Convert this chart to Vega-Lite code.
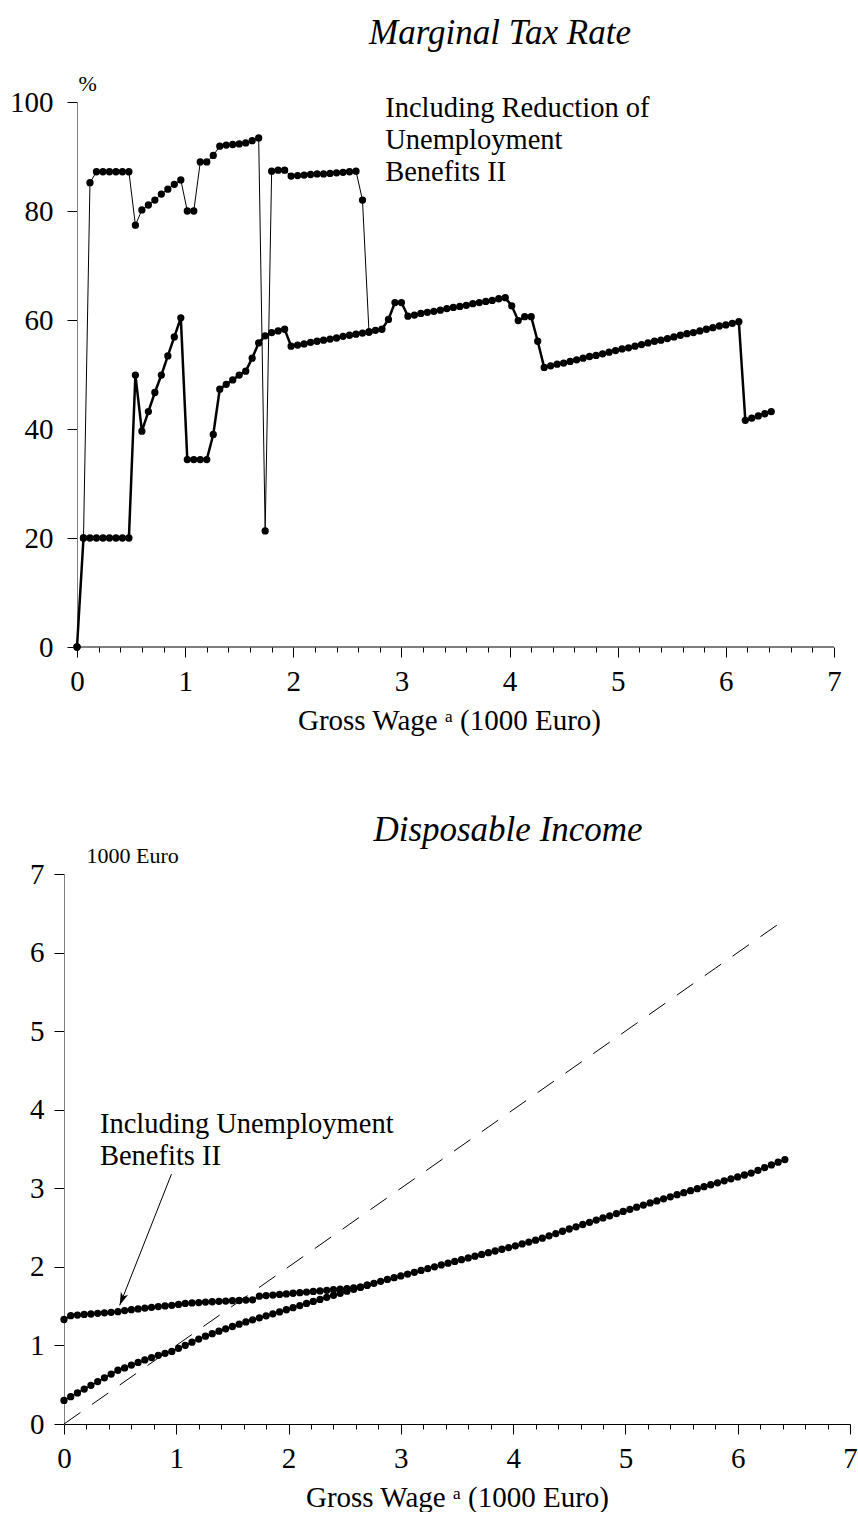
{
"$schema": "https://vega.github.io/schema/vega-lite/v6.json",
"background": "white",
"padding": {"left": 0, "top": 16, "right": 0, "bottom": 0},
"spacing": 78,
"config": {
  "font": "Liberation Serif",
  "view": {"stroke": null},
  "axis": {"grid": false, "labelFont": "Liberation Serif", "titleFont": "Liberation Serif", "labelColor": "black", "titleColor": "black", "labelFontSize": 29, "titleFontSize": 29, "titleFontWeight": "normal", "tickColor": "black", "domainColor": "black", "tickSize": 10, "labelPadding": 10, "labelOverlap": false, "labelFlush": false}
},
"datasets": {
  "mtrUpper": [
    {"x":0,"r":0},{"x":0.06,"r":20},{"x":0.12,"r":85.2},{"x":0.18,"r":87.2},{"x":0.24,"r":87.2},{"x":0.3,"r":87.2},{"x":0.36,"r":87.2},{"x":0.42,"r":87.2},{"x":0.48,"r":87.2},{"x":0.54,"r":77.4},{"x":0.6,"r":80.2},{"x":0.66,"r":81.1},{"x":0.72,"r":82.0},{"x":0.78,"r":83.1},{"x":0.84,"r":84.0},{"x":0.9,"r":84.9},{"x":0.96,"r":85.7},{"x":1.02,"r":80.0},{"x":1.08,"r":80.0},{"x":1.14,"r":89.0},{"x":1.2,"r":89.0},{"x":1.26,"r":90.2},{"x":1.32,"r":91.9},{"x":1.38,"r":92.1},{"x":1.44,"r":92.2},{"x":1.5,"r":92.3},{"x":1.56,"r":92.5},{"x":1.62,"r":92.9},{"x":1.68,"r":93.4},{"x":1.74,"r":21.3},{"x":1.8,"r":87.3},{"x":1.86,"r":87.5},{"x":1.92,"r":87.5},{"x":1.98,"r":86.4},{"x":2.04,"r":86.5},{"x":2.1,"r":86.6},{"x":2.16,"r":86.7},{"x":2.22,"r":86.8},{"x":2.28,"r":86.8},{"x":2.34,"r":86.9},{"x":2.4,"r":87.0},{"x":2.46,"r":87.1},{"x":2.52,"r":87.2},{"x":2.58,"r":87.3},{"x":2.64,"r":82.0},{"x":2.7,"r":57.8}
  ],
  "mtrLower": [
    {"x":0,"r":0},{"x":0.06,"r":20},{"x":0.12,"r":20},{"x":0.18,"r":20},{"x":0.24,"r":20},{"x":0.3,"r":20},{"x":0.36,"r":20},{"x":0.42,"r":20},{"x":0.48,"r":20},{"x":0.54,"r":49.9},{"x":0.6,"r":39.6},{"x":0.66,"r":43.2},{"x":0.72,"r":46.7},{"x":0.78,"r":49.9},{"x":0.84,"r":53.4},{"x":0.9,"r":56.9},{"x":0.96,"r":60.4},{"x":1.02,"r":34.4},{"x":1.08,"r":34.4},{"x":1.14,"r":34.4},{"x":1.2,"r":34.4},{"x":1.26,"r":39.0},{"x":1.32,"r":47.3},{"x":1.38,"r":48.2},{"x":1.44,"r":49.0},{"x":1.5,"r":49.9},{"x":1.56,"r":50.6},{"x":1.62,"r":53.0},{"x":1.68,"r":55.8},{"x":1.74,"r":57.1},{"x":1.8,"r":57.7},{"x":1.86,"r":58.0},{"x":1.92,"r":58.3},{"x":1.98,"r":55.2},{"x":2.04,"r":55.4},{"x":2.1,"r":55.6},{"x":2.16,"r":55.9},{"x":2.22,"r":56.1},{"x":2.28,"r":56.3},{"x":2.34,"r":56.5},{"x":2.4,"r":56.7},{"x":2.46,"r":57.0},{"x":2.52,"r":57.2},{"x":2.58,"r":57.4},{"x":2.64,"r":57.6},{"x":2.7,"r":57.8},{"x":2.76,"r":58.1},{"x":2.82,"r":58.3},{"x":2.88,"r":60.1},{"x":2.94,"r":63.2},{"x":3.0,"r":63.2},{"x":3.06,"r":60.7},{"x":3.12,"r":60.9},{"x":3.18,"r":61.2},{"x":3.24,"r":61.4},{"x":3.3,"r":61.6},{"x":3.36,"r":61.8},{"x":3.42,"r":62.1},{"x":3.48,"r":62.3},{"x":3.54,"r":62.5},{"x":3.6,"r":62.7},{"x":3.66,"r":63.0},{"x":3.72,"r":63.2},{"x":3.78,"r":63.4},{"x":3.84,"r":63.6},{"x":3.9,"r":63.9},{"x":3.96,"r":64.1},{"x":4.02,"r":62.6},{"x":4.08,"r":59.9},{"x":4.14,"r":60.6},{"x":4.2,"r":60.6},{"x":4.26,"r":56.1},{"x":4.32,"r":51.3},{"x":4.38,"r":51.6},{"x":4.44,"r":51.9},{"x":4.5,"r":52.1},{"x":4.56,"r":52.4},{"x":4.62,"r":52.7},{"x":4.68,"r":53.0},{"x":4.74,"r":53.3},{"x":4.8,"r":53.5},{"x":4.86,"r":53.8},{"x":4.92,"r":54.1},{"x":4.98,"r":54.4},{"x":5.04,"r":54.7},{"x":5.1,"r":54.9},{"x":5.16,"r":55.2},{"x":5.22,"r":55.5},{"x":5.28,"r":55.8},{"x":5.34,"r":56.1},{"x":5.4,"r":56.3},{"x":5.46,"r":56.6},{"x":5.52,"r":56.9},{"x":5.58,"r":57.2},{"x":5.64,"r":57.5},{"x":5.7,"r":57.7},{"x":5.76,"r":58.0},{"x":5.82,"r":58.3},{"x":5.88,"r":58.6},{"x":5.94,"r":58.9},{"x":6.0,"r":59.1},{"x":6.06,"r":59.4},{"x":6.12,"r":59.7},{"x":6.18,"r":41.6},{"x":6.24,"r":42.0},{"x":6.3,"r":42.4},{"x":6.36,"r":42.8},{"x":6.42,"r":43.2}
  ],
  "diWith": [
    {"x":0,"d":1.330},{"x":0.06,"d":1.378},{"x":0.12,"d":1.386},{"x":0.18,"d":1.394},{"x":0.24,"d":1.400},{"x":0.3,"d":1.408},{"x":0.36,"d":1.415},{"x":0.42,"d":1.422},{"x":0.48,"d":1.429},{"x":0.54,"d":1.443},{"x":0.6,"d":1.455},{"x":0.66,"d":1.465},{"x":0.72,"d":1.476},{"x":0.78,"d":1.485},{"x":0.84,"d":1.494},{"x":0.9,"d":1.503},{"x":0.96,"d":1.511},{"x":1.02,"d":1.522},{"x":1.08,"d":1.534},{"x":1.14,"d":1.541},{"x":1.2,"d":1.546},{"x":1.26,"d":1.552},{"x":1.32,"d":1.556},{"x":1.38,"d":1.561},{"x":1.44,"d":1.564},{"x":1.5,"d":1.569},{"x":1.56,"d":1.572},{"x":1.62,"d":1.577},{"x":1.68,"d":1.581},{"x":1.74,"d":1.627},{"x":1.8,"d":1.635},{"x":1.86,"d":1.641},{"x":1.92,"d":1.649},{"x":1.98,"d":1.656},{"x":2.04,"d":1.664},{"x":2.1,"d":1.671},{"x":2.16,"d":1.679},{"x":2.22,"d":1.687},{"x":2.28,"d":1.694},{"x":2.34,"d":1.702},{"x":2.4,"d":1.709},{"x":2.46,"d":1.717},{"x":2.52,"d":1.723},{"x":2.58,"d":1.731},{"x":2.64,"d":1.741},{"x":2.7,"d":1.766}
  ],
  "diLower": [
    {"x":0,"d":0.300},{"x":0.06,"d":0.348},{"x":0.12,"d":0.396},{"x":0.18,"d":0.444},{"x":0.24,"d":0.492},{"x":0.3,"d":0.540},{"x":0.36,"d":0.588},{"x":0.42,"d":0.636},{"x":0.48,"d":0.684},{"x":0.54,"d":0.714},{"x":0.6,"d":0.750},{"x":0.66,"d":0.784},{"x":0.72,"d":0.816},{"x":0.78,"d":0.846},{"x":0.84,"d":0.874},{"x":0.9,"d":0.900},{"x":0.96,"d":0.924},{"x":1.02,"d":0.963},{"x":1.08,"d":1.002},{"x":1.14,"d":1.042},{"x":1.2,"d":1.081},{"x":1.26,"d":1.118},{"x":1.32,"d":1.150},{"x":1.38,"d":1.181},{"x":1.44,"d":1.211},{"x":1.5,"d":1.241},{"x":1.56,"d":1.271},{"x":1.62,"d":1.299},{"x":1.68,"d":1.326},{"x":1.74,"d":1.352},{"x":1.8,"d":1.377},{"x":1.86,"d":1.402},{"x":1.92,"d":1.427},{"x":1.98,"d":1.454},{"x":2.04,"d":1.481},{"x":2.1,"d":1.507},{"x":2.16,"d":1.534},{"x":2.22,"d":1.560},{"x":2.28,"d":1.586},{"x":2.34,"d":1.612},{"x":2.4,"d":1.638},{"x":2.46,"d":1.664},{"x":2.52,"d":1.690},{"x":2.58,"d":1.715},{"x":2.64,"d":1.741},{"x":2.7,"d":1.766},{"x":2.76,"d":1.791},{"x":2.82,"d":1.816},{"x":2.88,"d":1.840},{"x":2.94,"d":1.862},{"x":3.0,"d":1.884},{"x":3.06,"d":1.908},{"x":3.12,"d":1.931},{"x":3.18,"d":1.955},{"x":3.24,"d":1.978},{"x":3.3,"d":2.001},{"x":3.36,"d":2.024},{"x":3.42,"d":2.047},{"x":3.48,"d":2.069},{"x":3.54,"d":2.092},{"x":3.6,"d":2.114},{"x":3.66,"d":2.136},{"x":3.72,"d":2.158},{"x":3.78,"d":2.180},{"x":3.84,"d":2.202},{"x":3.9,"d":2.224},{"x":3.96,"d":2.245},{"x":4.02,"d":2.268},{"x":4.08,"d":2.292},{"x":4.14,"d":2.315},{"x":4.2,"d":2.339},{"x":4.26,"d":2.365},{"x":4.32,"d":2.395},{"x":4.38,"d":2.424},{"x":4.44,"d":2.453},{"x":4.5,"d":2.482},{"x":4.56,"d":2.510},{"x":4.62,"d":2.539},{"x":4.68,"d":2.567},{"x":4.74,"d":2.595},{"x":4.8,"d":2.623},{"x":4.86,"d":2.650},{"x":4.92,"d":2.678},{"x":4.98,"d":2.705},{"x":5.04,"d":2.732},{"x":5.1,"d":2.759},{"x":5.16,"d":2.786},{"x":5.22,"d":2.813},{"x":5.28,"d":2.839},{"x":5.34,"d":2.866},{"x":5.4,"d":2.892},{"x":5.46,"d":2.918},{"x":5.52,"d":2.944},{"x":5.58,"d":2.969},{"x":5.64,"d":2.995},{"x":5.7,"d":3.020},{"x":5.76,"d":3.045},{"x":5.82,"d":3.070},{"x":5.88,"d":3.095},{"x":5.94,"d":3.120},{"x":6.0,"d":3.145},{"x":6.06,"d":3.169},{"x":6.12,"d":3.193},{"x":6.18,"d":3.228},{"x":6.24,"d":3.263},{"x":6.3,"d":3.297},{"x":6.36,"d":3.332},{"x":6.42,"d":3.366}
  ],
  "diag": [{"x":0,"d":0},{"x":6.42,"d":6.42}],
  "arrow": [{"x":0.957,"d":3.18,"x2":0.496,"d2":1.51}],
  "baseline": [{"x":0,"x2":7,"r":0}]
},
"vconcat": [
  {
    "width": 770,
    "height": 545,
    "title": {"text": "Marginal Tax Rate", "font": "Liberation Serif", "fontSize": 35, "fontStyle": "italic", "fontWeight": "normal", "color": "black", "frame": "group", "anchor": "middle", "offset": 21, "dx": 51},
    "layer": [
      {
        "data": {"name": "mtrUpper"},
        "mark": {"type": "line", "color": "black", "strokeWidth": 1, "point": {"filled": true, "color": "black", "size": 53, "opacity": 1}},
        "encoding": {
          "x": {"field": "x", "type": "quantitative", "scale": {"domain": [-0.1202, 7], "nice": false, "zero": false},
            "axis": {"title": "Gross Wage ᵃ (1000 Euro)", "titlePadding": 10, "domain": false, "tickCount": 100, "values": [0,0.2,0.4,0.6,0.8,1,1.2,1.4,1.6,1.8,2,2.2,2.4,2.6,2.8,3,3.2,3.4,3.6,3.8,4,4.2,4.4,4.6,4.8,5,5.2,5.4,5.6,5.8,6,6.2,6.4,6.6,6.8,7],
              "labelExpr": "datum.value % 1 === 0 ? format(datum.value, 'd') : ''",
              "tickSize": {"condition": {"test": "datum.value % 1 === 0", "value": 10}, "value": 5}, "labelPadding": 10}},
          "y": {"field": "r", "type": "quantitative", "scale": {"domain": [0, 100], "nice": false},
            "axis": {"values": [0,20,40,60,80,100], "format": "d", "offset": -13, "title": "%", "titleFontSize": 22, "titleAngle": 0, "titleAlign": "left", "titleBaseline": "alphabetic", "titleX": 1, "titleY": -12, "domainColor": "#808080", "labelPadding": 14}}
        }
      },
      {
        "data": {"name": "baseline"},
        "mark": {"type": "rule", "color": "black", "strokeWidth": 1},
        "encoding": {
          "x": {"field": "x", "type": "quantitative"},
          "x2": {"field": "x2"},
          "y": {"field": "r", "type": "quantitative"}
        }
      },
      {
        "data": {"name": "mtrLower"},
        "mark": {"type": "line", "color": "black", "strokeWidth": 2.5, "point": {"filled": true, "color": "black", "size": 53, "opacity": 1}},
        "encoding": {
          "x": {"field": "x", "type": "quantitative"},
          "y": {"field": "r", "type": "quantitative"}
        }
      },
      {
        "data": {"values": [{"x": 2.85, "r": 101.5, "t": "Including Reduction of\nUnemployment\nBenefits II"}]},
        "mark": {"type": "text", "align": "left", "baseline": "top", "fontSize": 28.5, "lineHeight": 32, "lineBreak": "\n", "font": "Liberation Serif", "color": "black"},
        "encoding": {
          "x": {"field": "x", "type": "quantitative"},
          "y": {"field": "r", "type": "quantitative"},
          "text": {"field": "t"}
        }
      }
    ]
  },
  {
    "width": 786,
    "height": 550,
    "title": {"text": "Disposable Income", "font": "Liberation Serif", "fontSize": 35, "fontStyle": "italic", "fontWeight": "normal", "color": "black", "frame": "group", "anchor": "middle", "offset": -4, "dx": 51},
    "layer": [
      {
        "data": {"name": "diag"},
        "mark": {"type": "line", "color": "black", "strokeWidth": 1, "strokeDash": [20, 14]},
        "encoding": {
          "x": {"field": "x", "type": "quantitative", "scale": {"domain": [0, 7], "nice": false},
            "axis": {"title": "Gross Wage ᵃ (1000 Euro)", "titlePadding": 10, "tickCount": 100, "values": [0,0.2,0.4,0.6,0.8,1,1.2,1.4,1.6,1.8,2,2.2,2.4,2.6,2.8,3,3.2,3.4,3.6,3.8,4,4.2,4.4,4.6,4.8,5,5.2,5.4,5.6,5.8,6,6.2,6.4,6.6,6.8,7],
              "labelExpr": "datum.value % 1 === 0 ? format(datum.value, 'd') : ''",
              "tickSize": {"condition": {"test": "datum.value % 1 === 0", "value": 10}, "value": 5}, "labelPadding": 10}},
          "y": {"field": "d", "type": "quantitative", "scale": {"domain": [0, 7], "nice": false},
            "axis": {"values": [0,1,2,3,4,5,6,7], "format": "d", "title": "1000 Euro", "titleFontSize": 22, "titleAngle": 0, "titleAlign": "left", "titleBaseline": "alphabetic", "titleX": 22, "titleY": -12, "domainColor": "#808080", "labelPadding": 10, "minExtent": 64}}
        }
      },
      {
        "data": {"name": "diWith"},
        "mark": {"type": "line", "color": "black", "strokeWidth": 1.5, "point": {"filled": true, "color": "black", "size": 53, "opacity": 1}},
        "encoding": {
          "x": {"field": "x", "type": "quantitative"},
          "y": {"field": "d", "type": "quantitative"}
        }
      },
      {
        "data": {"name": "diLower"},
        "mark": {"type": "line", "color": "black", "strokeWidth": 1.5, "point": {"filled": true, "color": "black", "size": 53, "opacity": 1}},
        "encoding": {
          "x": {"field": "x", "type": "quantitative"},
          "y": {"field": "d", "type": "quantitative"}
        }
      },
      {
        "data": {"name": "arrow"},
        "mark": {"type": "rule", "color": "black", "strokeWidth": 1},
        "encoding": {
          "x": {"field": "x", "type": "quantitative"},
          "y": {"field": "d", "type": "quantitative"},
          "x2": {"field": "x2"},
          "y2": {"field": "d2"}
        }
      },
      {
        "data": {"name": "arrow"},
        "mark": {"type": "point", "filled": true, "color": "black", "opacity": 1, "size": 300, "angle": 21.6, "shape": "M0,0L-0.45,-1.5L0,-1.1L0.45,-1.5Z"},
        "encoding": {
          "x": {"field": "x2", "type": "quantitative"},
          "y": {"field": "d2", "type": "quantitative"}
        }
      },
      {
        "data": {"values": [{"x": 0.32, "d": 4.0, "t": "Including Unemployment\nBenefits II"}]},
        "mark": {"type": "text", "align": "left", "baseline": "top", "fontSize": 28.5, "lineHeight": 32, "lineBreak": "\n", "font": "Liberation Serif", "color": "black"},
        "encoding": {
          "x": {"field": "x", "type": "quantitative"},
          "y": {"field": "d", "type": "quantitative"},
          "text": {"field": "t"}
        }
      }
    ]
  }
]
}
